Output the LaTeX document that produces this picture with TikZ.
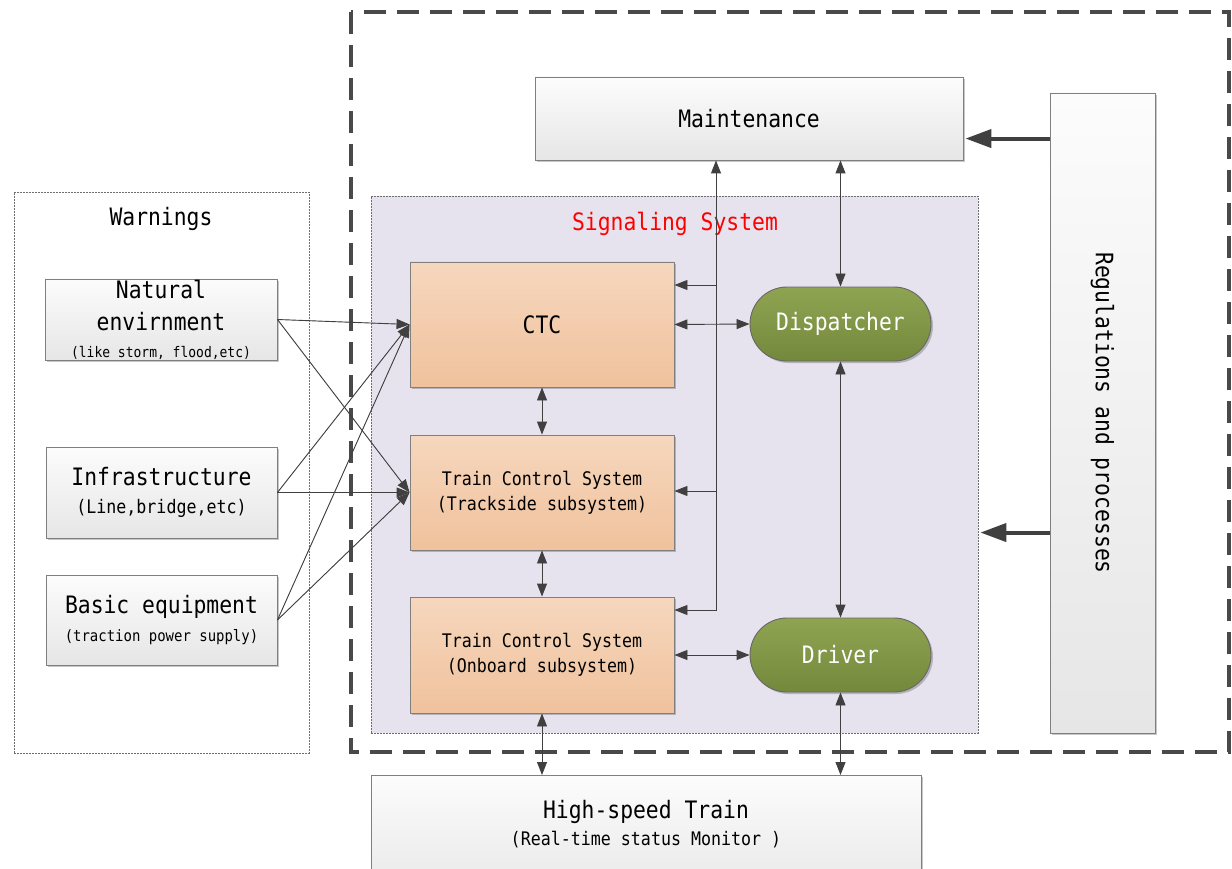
\documentclass[tikz,border=0pt]{standalone}
\usepackage{fontspec}
\newfontfamily\dgfont{DejaVu Sans Mono}[FakeStretch=0.89]
\usetikzlibrary{arrows.meta,shadows,calc}

\definecolor{ink}{HTML}{404040}
\definecolor{boxline}{HTML}{7F7F7F}
\definecolor{greytop}{HTML}{FCFCFC}
\definecolor{greybot}{HTML}{E6E6E6}
\definecolor{peachtop}{HTML}{F6D7BD}
\definecolor{peachbot}{HTML}{F0C29D}
\definecolor{greentop}{HTML}{8FA452}
\definecolor{greenbot}{HTML}{74883C}
\definecolor{lavender}{HTML}{E6E3EE}
\definecolor{framegrey}{HTML}{6E6E6E}

\tikzset{
  big/.style={font=\dgfont\fontsize{24}{32}\selectfont},
  mid/.style={font=\dgfont\fontsize{18.7}{25}\selectfont},
  softshadow/.style={drop shadow={shadow xshift=2pt,shadow yshift=-2pt,opacity=0.22,fill=black}},
  greybox/.style={draw=boxline, line width=0.9pt, top color=greytop, bottom color=greybot,
    inner sep=0pt, align=center, softshadow},
  peachbox/.style={draw=boxline, line width=0.9pt, top color=peachtop, bottom color=peachbot,
    inner sep=0pt, align=center, minimum width=264pt, softshadow},
  pill/.style={draw=ink!80, line width=0.9pt, top color=greentop, bottom color=greenbot,
    inner sep=0pt, minimum width=181pt, minimum height=74pt, rounded corners=37pt,
    text=white, big, softshadow},
  groupframe/.style={draw=framegrey, line width=0.7pt, dash pattern=on 2pt off 1pt},
  tipthin/.tip={Triangle[length=13pt,width=10pt]},
  arr/.style={draw=ink, line width=0.9pt, -tipthin, fill=ink},
  dbl/.style={draw=ink, line width=0.9pt, tipthin-tipthin},
  fatarr/.style={draw=ink, line width=4pt, -{Triangle[length=26pt,width=18pt]}},
}

\begin{document}
\begin{tikzpicture}[x=1pt,y=-1pt]
\clip (0,0) rectangle (1232,869);
\fill[white] (0,0) rectangle (1232,869);

% outer boundary of the railway operation domain
\draw[ink!95, line width=3.6pt, dash pattern=on 22pt off 11pt] (351,12) rectangle (1229,752);

% warnings group
\node[groupframe, minimum width=295pt, minimum height=561pt, inner sep=0pt] (warn) at (161.5,472.5) {};
\node[big] (warntitle) at (161,219) {Warnings};

% signaling system group
\node[groupframe, fill=lavender, minimum width=607pt, minimum height=537pt, inner sep=0pt] (sig) at (674.5,464.5) {};
\node[big, text=red] (sigtitle) at (675,224) {Signaling System};

% warning sources
\node[greybox, minimum width=232pt, minimum height=81pt, big] (nat) at (161,319.5)
  {Natural\\envirnment\\[-5pt]{\fontsize{14.6}{17}\selectfont (like storm, flood,etc)}};
\node[greybox, minimum width=231pt, minimum height=91pt, big] (inf) at (161.5,492.5)
  {Infrastructure\\[-4pt]{\fontsize{18.7}{22}\selectfont (Line,bridge,etc)}};
\node[greybox, minimum width=231pt, minimum height=90pt, big] (bas) at (161.5,620)
  {Basic equipment\\[-4pt]{\fontsize{15.7}{20}\selectfont (traction power supply)}};

% signaling subsystems
\node[peachbox, minimum height=125pt, big] (ctc) at (542,324.5) {CTC};
\node[peachbox, minimum height=115pt, mid] (tcs) at (542,492.5)
  {Train Control System\\(Trackside subsystem)};
\node[peachbox, minimum height=116pt, mid] (obs) at (542,655)
  {Train Control System\\(Onboard subsystem)};

% human roles
\node[pill] (disp) at (840.5,324) {Dispatcher};
\node[pill] (drv) at (840.5,655) {Driver};

% maintenance and regulations
\node[greybox, minimum width=428pt, minimum height=83pt, big] (maint) at (749,118.5) {Maintenance};
\node[greybox, minimum width=105pt, minimum height=640pt] (regs) at (1102.5,413) {};
\node[big, rotate=-90] (regstext) at (regs.center) {Regulations and processes};

% train
\node[greybox, minimum width=550pt, minimum height=130pt, anchor=north] (train) at (646,775) {};
\node[big, align=center] (traintext) at (646,824)
  {High-speed Train\\[-5pt]{\fontsize{18.7}{22}\selectfont (Real-time status Monitor )}};

% warnings feeding the signaling system
\foreach \src in {nat,inf,bas}{
  \draw[arr] (\src.east) -- (ctc.west);
  \draw[arr] (\src.east) -- (tcs.west);
}

% maintenance bus
\coordinate (busbot) at (716,610);
\coordinate (busctc) at (716,285);
\coordinate (bustcs) at (716,491);
\draw[dbl] (busbot -| obs.east) -- (busbot) -- (busbot |- maint.south);
\draw[arr] (busctc) -- (busctc -| ctc.east);
\draw[arr] (bustcs) -- (bustcs -| tcs.east);

% bidirectional links
\draw[dbl] (disp.north) -- (disp.north |- maint.south);
\draw[dbl] (ctc.east) -- (disp.west);
\draw[dbl] (disp.south) -- (drv.north);
\draw[dbl] (ctc.south) -- (tcs.north);
\draw[dbl] (tcs.south) -- (obs.north);
\draw[dbl] (obs.east) -- (drv.west);
\draw[dbl] (obs.south) -- (obs.south |- train.north);
\draw[dbl] (drv.south) -- (drv.south |- train.north);

% regulations acting on maintenance and signaling
\coordinate (rega) at ($(regs.north west)+(0,46)$);
\coordinate (regb) at ($(regs.north west)+(0,440)$);
\draw[fatarr] (rega) -- ($(rega -| maint.east)+(2,0)$);
\draw[fatarr] (regb) -- ($(regb -| sig.east)+(2,0)$);
\end{tikzpicture}
\end{document}
